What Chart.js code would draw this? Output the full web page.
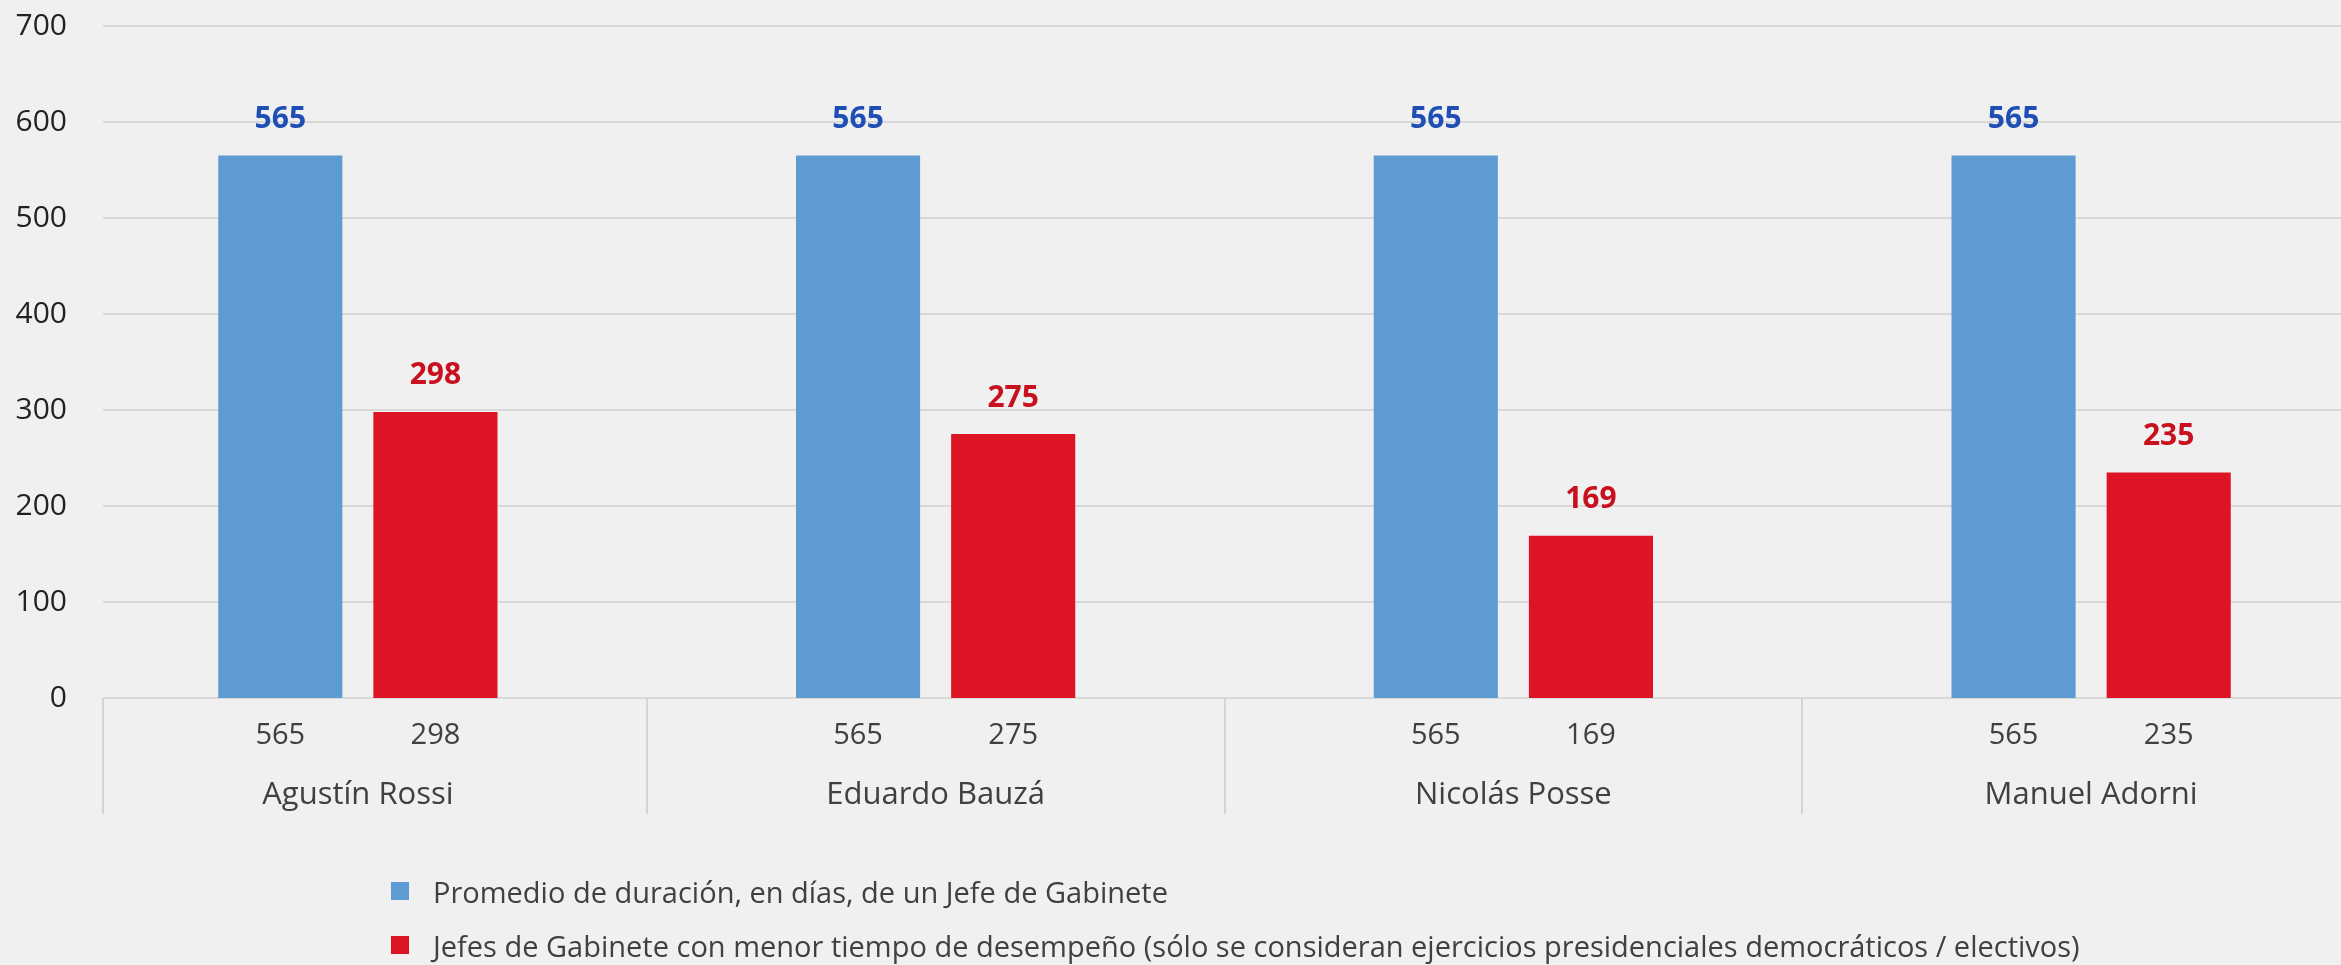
<!DOCTYPE html>
<html>
<head>
<meta charset="utf-8">
<script src="https://cdn.jsdelivr.net/npm/chart.js@4.4.1/dist/chart.umd.min.js"></script>
<style>
  html, body { margin: 0; padding: 0; background: #f0f0f0; overflow: hidden; }
  #wrap { position: relative; width: 2400px; height: 965px; }
  #legend { position: absolute; left: 391px; top: 864px; font-family: "Open Sans"; font-size: 29px; color: #404040; }
  .item { display: flex; align-items: center; height: 54px; white-space: nowrap; }
  .box { width: 18px; height: 18px; margin-right: 24px; }
</style>
</head>
<body>
<div id="wrap">
  <canvas id="chart"></canvas>
  <div id="legend"></div>
</div>
<script>
// datos
const names = ['Agustín Rossi', 'Eduardo Bauzá', 'Nicolás Posse', 'Manuel Adorni'];
const promedio = [565, 565, 565, 565];
const menorTiempo = [298, 275, 169, 235];
const yTicks = [0, 100, 200, 300, 400, 500, 600, 700];
const seriesLabels = [
    'Promedio de duración, en días, de un Jefe de Gabinete',
    'Jefes de Gabinete con menor tiempo de desempeño (sólo se consideran ejercicios presidenciales democráticos / electivos)'
];

const barColors = ['#5e9bd3', '#dc1424'];
const labelColors = ['#1f4fb4', '#c8101e'];

Chart.defaults.font.family = '"Open Sans"';

// lineas de grilla, separadores y etiquetas de valores
const extras = {
    id: 'extras',
    beforeDatasetsDraw(chart) {
        const ctx = chart.ctx;
        const area = chart.chartArea;
        const x = chart.scales.x;
        const y = chart.scales.y;
        const x0 = area.left + 34;
        ctx.save();
        ctx.strokeStyle = '#d9d9d9';
        ctx.lineWidth = 2;
        y.ticks.forEach(t => {
            const py = Math.round(y.getPixelForValue(t.value));
            ctx.beginPath();
            ctx.moveTo(x0, py);
            ctx.lineTo(area.right, py);
            ctx.stroke();
        });
        const xs = [x0];
        for (let i = 0; i < names.length - 1; i++) {
            xs.push(Math.round(x.getPixelForValue(i + 0.5)));
        }
        ctx.strokeStyle = '#d4d4d4';
        xs.forEach(px => {
            ctx.beginPath();
            ctx.moveTo(px, area.bottom);
            ctx.lineTo(px, area.bottom + 116);
            ctx.stroke();
        });
        ctx.restore();
    },
    afterDatasetsDraw(chart) {
        const ctx = chart.ctx;
        const area = chart.chartArea;
        ctx.save();
        ctx.textAlign = 'center';
        ctx.textBaseline = 'middle';
        chart.data.datasets.forEach((ds, di) => {
            const meta = chart.getDatasetMeta(di);
            meta.data.forEach((bar, j) => {
                const v = ds.data[j];
                ctx.font = 'bold 30px "Open Sans"';
                ctx.fillStyle = labelColors[di];
                ctx.fillText(v, bar.x, bar.y - 36);
                ctx.font = '29px "Open Sans"';
                ctx.fillStyle = '#404040';
                ctx.fillText(v, bar.x, area.bottom + 38);
            });
        });
        ctx.restore();
    }
};

const chart = new Chart(document.getElementById('chart'), {
    type: 'bar',
    data: {
        labels: names,
        datasets: [{
            label: seriesLabels[0],
            data: promedio,
            backgroundColor: barColors[0],
            categoryPercentage: 0.537,
            barPercentage: 0.8
        }, {
            label: seriesLabels[1],
            data: menorTiempo,
            backgroundColor: barColors[1],
            categoryPercentage: 0.537,
            barPercentage: 0.8
        }]
    },
    options: {
        responsive: true,
        maintainAspectRatio: false,
        animation: false,
        layout: {
            padding: { left: 0, top: 26, right: 20, bottom: 147 }
        },
        plugins: {
            legend: { display: false },
            tooltip: { enabled: false }
        },
        scales: {
            x: {
                grid: { display: false },
                border: { display: false },
                ticks: {
                    font: { size: 31 },
                    color: '#404040',
                    padding: 71
                },
                afterFit: s => { s.height = 120; }
            },
            y: {
                min: yTicks[0],
                max: yTicks[yTicks.length - 1],
                afterBuildTicks: s => { s.ticks = yTicks.map(v => ({ value: v })); },
                grid: { display: false, drawTicks: false },
                border: { display: false },
                ticks: {
                    font: { size: 30 },
                    color: '#222222',
                    padding: 2
                },
                afterFit: s => { s.width = 69; }
            }
        }
    },
    plugins: [extras]
});

// leyenda
const legend = document.getElementById('legend');
seriesLabels.forEach((lbl, i) => {
    const row = document.createElement('div');
    row.className = 'item';
    const box = document.createElement('span');
    box.className = 'box';
    box.style.background = barColors[i];
    const txt = document.createElement('span');
    txt.textContent = lbl;
    row.appendChild(box);
    row.appendChild(txt);
    legend.appendChild(row);
});
</script>
</body>
</html>
